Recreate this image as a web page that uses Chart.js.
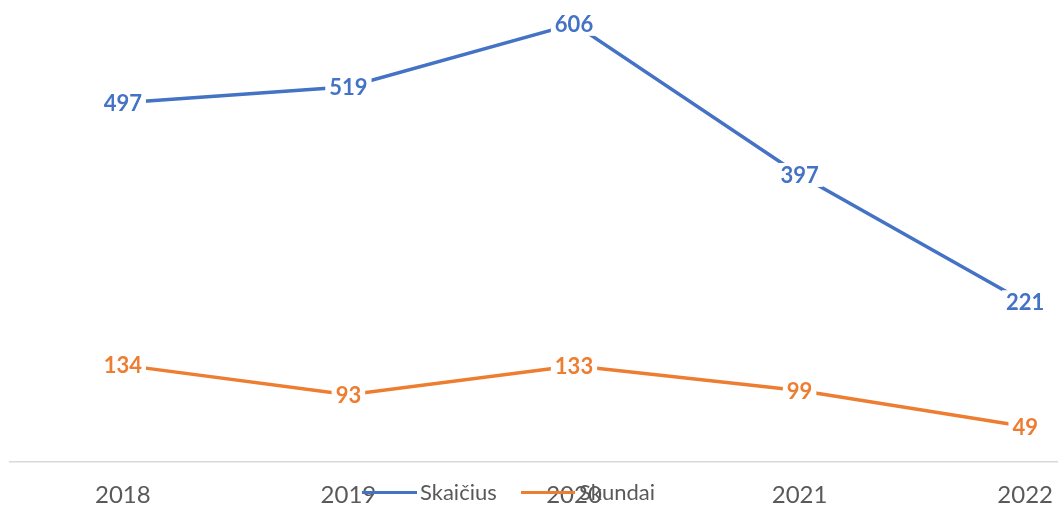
<!DOCTYPE html>
<html>
<head>
<meta charset="utf-8">
<script src="https://cdn.jsdelivr.net/npm/chart.js@4.4.1/dist/chart.umd.min.js"></script>
<style>
  html, body { margin: 0; padding: 0; background: #ffffff; overflow: hidden; width: 1058px; height: 508px; }
  #wrap { position: absolute; left: 0; top: 0; width: 1138px; height: 508px; }
  .lg-line { position: absolute; height: 3px; }
  .lg-text { position: absolute; font-family: Lato, "Liberation Sans", sans-serif; font-size: 22px; line-height: 24px; color: #595959; white-space: nowrap; }
</style>
</head>
<body>
<div id="wrap"><canvas id="c" width="1138" height="508"></canvas></div>
<div class="lg-line" style="left:362px; top:491px; width:55px; background:#4472C4;"></div>
<div class="lg-text" style="left:420px; top:480px;" id="lg1"></div>
<div class="lg-line" style="left:521px; top:491px; width:54px; background:#ED7D31;"></div>
<div class="lg-text" style="left:579px; top:480px;" id="lg2"></div>
<script>
const categories = ["2018", "2019", "2020", "2021", "2022"];
const seriesNames = ["Skaičius", "Skundai"];
const skaicius = [497, 519, 606, 397, 221];
const skundai = [134, 93, 133, 99, 49];
const colors = ["#4472C4", "#ED7D31"];

document.getElementById('lg1').textContent = seriesNames[0];
document.getElementById('lg2').textContent = seriesNames[1];

const FONT = 'Lato, "Liberation Sans", sans-serif';

const labelPlugin = {
  id: 'valueLabels',
  afterDatasetsDraw(chart) {
    const ctx = chart.ctx;
    ctx.save();
    ctx.font = 'bold 22px ' + FONT;
    ctx.textAlign = 'center';
    ctx.textBaseline = 'middle';
    chart.data.datasets.forEach((ds, i) => {
      const meta = chart.getDatasetMeta(i);
      meta.data.forEach((pt, j) => {
        const txt = String(ds.data[j]);
        const w = ctx.measureText(txt).width;
        ctx.fillStyle = '#ffffff';
        ctx.fillRect(pt.x - w / 2 - 4, pt.y - 12, w + 8, 24);
        ctx.fillStyle = ds.borderColor;
        ctx.fillText(txt, pt.x, pt.y + 1);
      });
    });
    ctx.restore();
  }
};

new Chart(document.getElementById('c'), {
  type: 'line',
  data: {
    labels: categories,
    datasets: [
      { label: seriesNames[0], data: skaicius, borderColor: colors[0], backgroundColor: colors[0], borderWidth: 3.5, pointRadius: 0, tension: 0 },
      { label: seriesNames[1], data: skundai, borderColor: colors[1], backgroundColor: colors[1], borderWidth: 3.5, pointRadius: 0, tension: 0 }
    ]
  },
  options: {
    responsive: false,
    animation: false,
    devicePixelRatio: 1,
    layout: { padding: { left: 10, right: 0, top: 0, bottom: 0 } },
    plugins: { legend: { display: false }, tooltip: { enabled: false } },
    scales: {
      x: {
        offset: true,
        grid: { display: false, drawTicks: false },
        border: { display: true, color: '#d9d9d9', width: 1.5 },
        ticks: { color: '#595959', font: { family: FONT, size: 24 }, padding: 19, maxRotation: 0 },
        afterFit(scale) { scale.height = 46; }
      },
      y: {
        display: false,
        min: 0,
        max: 639
      }
    }
  },
  plugins: [labelPlugin]
});
</script>
</body>
</html>
